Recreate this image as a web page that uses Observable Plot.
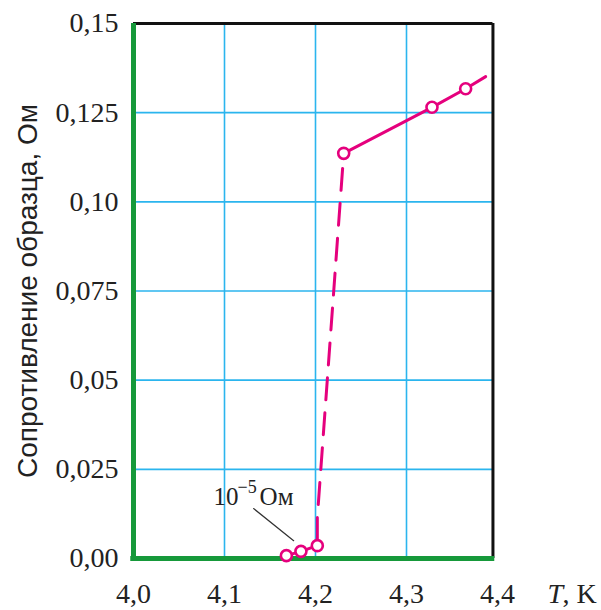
<!DOCTYPE html>
<html>
<head>
<meta charset="utf-8">
<script src="https://cdn.jsdelivr.net/npm/d3@7"></script>
<script src="https://cdn.jsdelivr.net/npm/@observablehq/plot@0.6"></script>
<style>
  html, body { margin: 0; padding: 0; background: #fff; }
  #chart svg { display: block; }
</style>
</head>
<body>
<div id="chart"></div>
<script>
// Measured points: temperature (K) and sample resistance (Ohm)
const temps = [4.168, 4.184, 4.202, 4.231, 4.328, 4.365];
const resist = [0.0008, 0.002, 0.0036, 0.1136, 0.1265, 0.1317];
// Where the solid low branch ends and the dashed jump begins
const jumpStart = {t: 4.202, r: 0.0115};
// Where the upper solid line ends (no marker)
const lineEnd = {t: 4.387, r: 0.1351};

const xTicks = [4.0, 4.1, 4.2, 4.3, 4.4];
const xTickLabels = ["4,0", "4,1", "4,2", "4,3", "4,4"];
const yTicks = [0, 0.025, 0.05, 0.075, 0.10, 0.125, 0.15];
const yTickLabels = ["0,00", "0,025", "0,05", "0,075", "0,10", "0,125", "0,15"];

const xMin = 4.0, xFrameMax = 4.395, yMin = 0, yMax = 0.15;

const yTitle = "Сопротивление образца, Ом";
// annotation "10^-5 Ом" and its leader line
const annot = {t: 4.088, r: 0.0149};
const leader = [{t: 4.132, r: 0.0140}, {t: 4.176, r: 0.0050}];

const pts = temps.map((t, i) => ({t, r: resist[i]}));
const lowSolid = [pts[0], pts[1], pts[2], jumpStart];
const dashed = [jumpStart, pts[3]];
const highSolid = [pts[3], pts[4], pts[5], lineEnd];

const pink = "#e5007d";
const grid = "#2bb5ee";
const green = "#16993a";
const serif = "'Liberation Serif', 'Times New Roman', serif";

const chart = Plot.plot({
  width: 601,
  height: 610,
  marginLeft: 133,
  marginRight: 104,
  marginTop: 23,
  marginBottom: 52,
  x: {domain: [4.0, 4.4], axis: null},
  y: {domain: [yMin, yMax], axis: null},
  style: {fontFamily: serif, background: "#fff", overflow: "visible"},
  marks: [
    // grid
    Plot.ruleX(xTicks.filter(d => d > xMin && d < xFrameMax), {x: d => d, y1: yMin, y2: yMax, stroke: grid, strokeWidth: 1.6}),
    Plot.ruleY(yTicks.filter(d => d > yMin && d < yMax), {y: d => d, x1: xMin, x2: xFrameMax, stroke: grid, strokeWidth: 1.6}),
    // frame: top & right black
    Plot.ruleY([yMax], {x1: xMin, x2: xFrameMax, stroke: "#111", strokeWidth: 3}),
    Plot.ruleX([xFrameMax], {y1: yMin, y2: yMax, stroke: "#111", strokeWidth: 3}),
    // axes: left & bottom green
    Plot.ruleX([xMin], {y1: yMin, y2: yMax, stroke: green, strokeWidth: 5}),
    Plot.ruleY([yMin], {x1: xMin - 0.003, x2: xFrameMax + 0.002, stroke: green, strokeWidth: 5}),
    // leader line
    Plot.line(leader, {x: "t", y: "r", stroke: "#333", strokeWidth: 1.2}),
    // data lines
    Plot.line(lowSolid, {x: "t", y: "r", stroke: pink, strokeWidth: 3}),
    Plot.line(dashed, {x: "t", y: "r", stroke: pink, strokeWidth: 3, strokeDasharray: "22,13", strokeDashoffset: 22}),
    Plot.line(highSolid, {x: "t", y: "r", stroke: pink, strokeWidth: 3}),
    Plot.dot(pts, {x: "t", y: "r", r: 5.5, fill: "#fff", stroke: pink, strokeWidth: 2.6}),
    // tick labels
    Plot.text(yTicks, {x: xMin, y: d => d, text: (d, i) => yTickLabels[i], textAnchor: "end", dx: -15, fontSize: 28, fill: "#222"}),
    Plot.text(xTicks, {x: d => d, y: yMin, text: (d, i) => xTickLabels[i], dy: 36, fontSize: 28, fill: "#222"}),
    // axis titles
    Plot.text([yTitle], {frameAnchor: "left", textAnchor: "middle", text: d => d, rotate: -90, dx: -105, fontSize: 28, fill: "#222",
      fontFamily: "'Liberation Sans Narrow', 'Liberation Sans', Arial, sans-serif"}),
    Plot.text(["T"], {x: 4.4, y: yMin, text: d => d, dy: 36, dx: 50, fontSize: 28, fontStyle: "italic", fill: "#222", textAnchor: "start"}),
    Plot.text([", K"], {x: 4.4, y: yMin, text: d => d, dy: 36, dx: 65, fontSize: 28, fill: "#222", textAnchor: "start"}),
    // annotation 10^-5 Ом
    Plot.text(["10"], {x: annot.t, y: annot.r, text: d => d, fontSize: 25, textAnchor: "start", lineAnchor: "bottom", fill: "#222"}),
    Plot.text(["\u22125"], {x: annot.t, y: annot.r, text: d => d, fontSize: 18, textAnchor: "start", lineAnchor: "bottom", dx: 24, dy: -12, fill: "#222"}),
    Plot.text(["Ом"], {x: annot.t, y: annot.r, text: d => d, fontSize: 25, textAnchor: "start", lineAnchor: "bottom", dx: 46, fill: "#222"})
  ]
});

document.getElementById("chart").appendChild(chart);
</script>
</body>
</html>
